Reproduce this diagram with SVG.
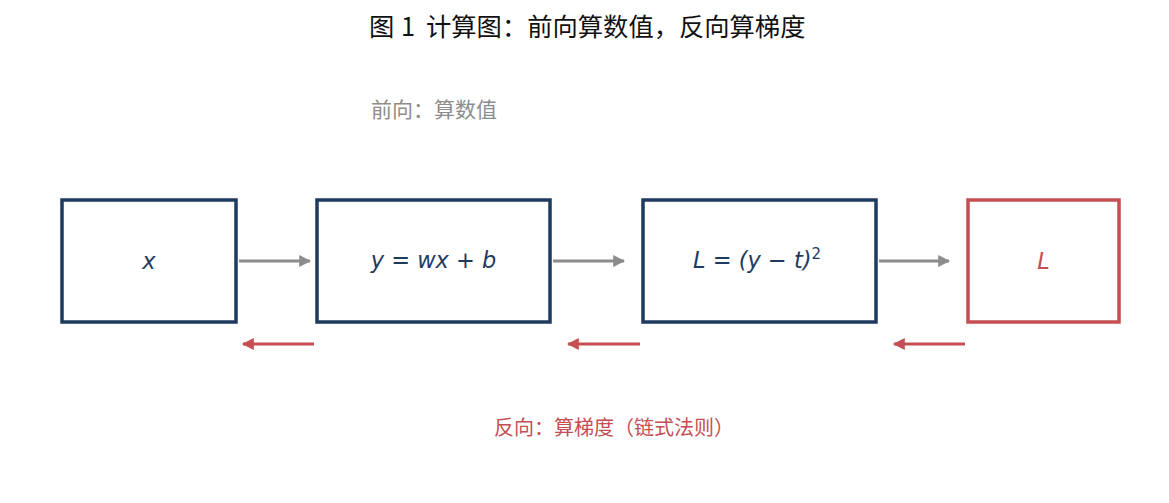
<svg xmlns="http://www.w3.org/2000/svg" width="1169" height="503" viewBox="0 0 1169 503">
<style>
.box{fill:#fff;stroke:#1f3a5f;stroke-width:3.5}
.boxr{fill:#fff;stroke:#c44e52;stroke-width:3.5}
.math{font-family:"DejaVu Sans",sans-serif;font-style:italic;font-size:22.5px;fill:#1f3a5f;text-anchor:middle}
.fw{stroke:#8c8c8c;stroke-width:3;fill:none}
.bw{stroke:#c44e52;stroke-width:3;fill:none}
.cjk{font-family:"Noto Sans CJK SC","Noto Sans",sans-serif}
</style>
<defs>
<marker id="ag" viewBox="0 0 10 10" refX="9" refY="5" markerWidth="4" markerHeight="4" orient="auto" markerUnits="strokeWidth"><path d="M0,0 L10,5 L0,10 z" fill="#8c8c8c"/></marker>
<marker id="ar" viewBox="0 0 10 10" refX="9" refY="5" markerWidth="4" markerHeight="4" orient="auto" markerUnits="strokeWidth"><path d="M0,0 L10,5 L0,10 z" fill="#c44e52"/></marker>
</defs>
<rect width="1169" height="503" fill="#fff"/>
<text class="cjk" y="36" font-size="25.3" fill="#111"><tspan x="369">图</tspan><tspan x="401">1</tspan><tspan x="426">计算图：前向算数值，反向算梯度</tspan></text>
<text class="cjk" x="371" y="117" font-size="21" fill="#8c8c8c">前向：算数值</text>
<text class="cjk" x="494" y="435" font-size="20" fill="#c44e52">反向：算梯度（链式法则）</text>
<g id="node-x"><rect class="box" x="62" y="200" width="174" height="122"/><text class="math" x="149" y="269">x</text></g>
<g id="node-y"><rect class="box" x="317" y="200" width="233" height="122"/><text class="math" x="433.5" y="268">y = wx + b</text></g>
<g id="node-loss"><rect class="box" x="643" y="200" width="233" height="122"/><text class="math" x="757" y="268">L = (y − t)<tspan font-style="normal" font-size="15" dy="-9">2</tspan></text></g>
<g id="node-L"><rect class="boxr" x="968" y="200" width="151" height="122"/><text class="math" x="1043.5" y="269" style="fill:#c44e52">L</text></g>
<g id="connectors">
<line class="fw" x1="239" y1="261" x2="310" y2="261" marker-end="url(#ag)"/>
<line class="fw" x1="553" y1="261" x2="624" y2="261" marker-end="url(#ag)"/>
<line class="fw" x1="879" y1="261" x2="949" y2="261" marker-end="url(#ag)"/>
<line class="bw" x1="314" y1="344" x2="243" y2="344" marker-end="url(#ar)"/>
<line class="bw" x1="640" y1="344" x2="568" y2="344" marker-end="url(#ar)"/>
<line class="bw" x1="965" y1="344" x2="894" y2="344" marker-end="url(#ar)"/>
</g>
</svg>
